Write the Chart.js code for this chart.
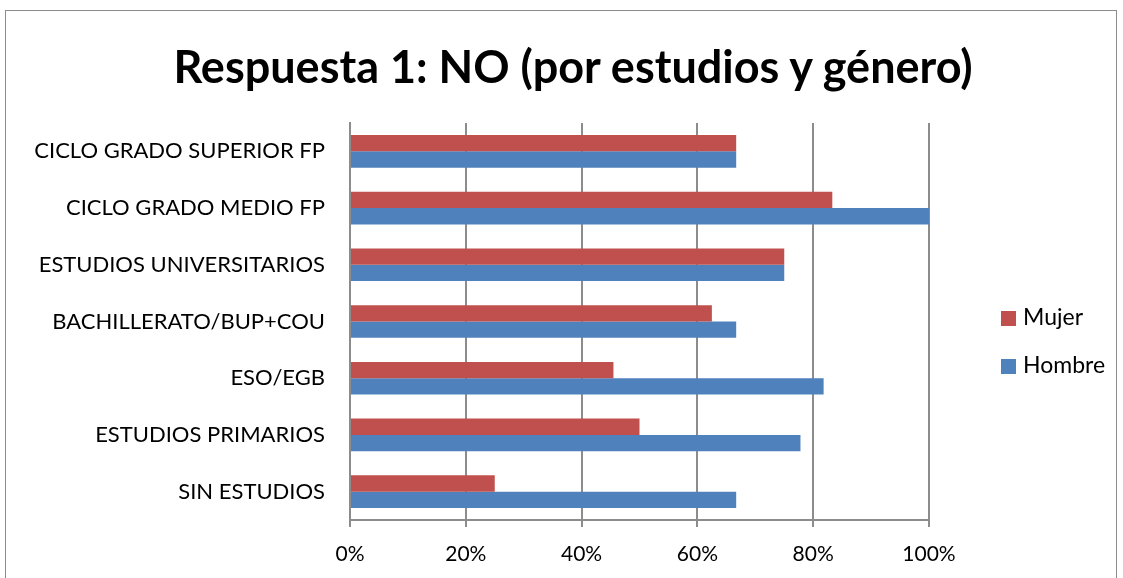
<!DOCTYPE html>
<html>
<head>
<meta charset="utf-8">
<script src="https://cdn.jsdelivr.net/npm/chart.js@4"></script>
<style>
  html, body { margin: 0; padding: 0; background: #fff; }
  #wrap { position: relative; width: 1123px; height: 578px; overflow: hidden; }
  #frame { position: absolute; left: 5px; top: 10px; width: 1112px; height: 600px; border: 1px solid #8c8c8c; box-sizing: border-box; }
  #title { position: absolute; left: 0; width: 1146px; top: 38px; text-align: center; font-family: Lato, sans-serif; font-weight: bold; font-size: 45px; line-height: 56px; color: #000; }
  #legend { position: absolute; left: 1001px; top: 302px; font-family: Lato, sans-serif; font-size: 23px; color: #000; }
  #legend div { height: 48px; line-height: 28px; }
  #legend span { display: inline-block; width: 15px; height: 15px; margin-right: 7px; vertical-align: -1px; }
  canvas { position: absolute; left: 0; top: 0; }
</style>
</head>
<body>
<div id="wrap">
  <div id="frame"></div>
  <canvas id="chart" width="1123" height="578"></canvas>
  <div id="title">Respuesta 1: NO (por estudios y género)</div>
  <div id="legend"></div>
</div>
<script>
// data
const categories = [
  'CICLO GRADO SUPERIOR FP',
  'CICLO GRADO MEDIO FP',
  'ESTUDIOS UNIVERSITARIOS',
  'BACHILLERATO/BUP+COU',
  'ESO/EGB',
  'ESTUDIOS PRIMARIOS',
  'SIN ESTUDIOS'
];
const mujer = [66.7, 83.3, 75, 62.5, 45.5, 50, 25];
const hombre = [66.7, 100, 75, 66.7, 81.8, 77.8, 66.7];
const xTicks = [0, 20, 40, 60, 80, 100];

const red = '#C0504D';
const blue = '#4F81BD';
const gridColor = '#8c8c8c';

// legend
const legend = document.getElementById('legend');
[['Mujer', red], ['Hombre', blue]].forEach(([name, color]) => {
  const row = document.createElement('div');
  row.innerHTML = '<span style="background:' + color + '"></span>' + name;
  legend.appendChild(row);
});

const ctx = document.getElementById('chart');
window.myChart = new Chart(ctx, {
  type: 'bar',
  data: {
    labels: categories,
    datasets: [{
      label: 'Mujer',
      data: mujer,
      backgroundColor: red,
      categoryPercentage: 0.575,
      barPercentage: 1
    }, {
      label: 'Hombre',
      data: hombre,
      backgroundColor: blue,
      categoryPercentage: 0.575,
      barPercentage: 1
    }]
  },
  options: {
    indexAxis: 'y',
    responsive: false,
    animation: false,
    layout: { padding: { left: 0, right: 194, top: 123, bottom: 0 } },
    plugins: {
      legend: { display: false },
      tooltip: { enabled: false }
    },
    scales: {
      x: {
        min: 0,
        max: 100,
        afterBuildTicks: (scale) => { scale.ticks = xTicks.map(v => ({ value: v })); },
        afterFit: (scale) => { scale.height = 58; },
        ticks: {
          color: '#000',
          padding: 15,
          font: { family: 'Lato, sans-serif', size: 21 },
          callback: (v) => v + '%'
        },
        grid: { color: gridColor, lineWidth: 2, tickLength: 7 },
        border: { color: gridColor, width: 2 }
      },
      y: {
        afterFit: (scale) => { scale.width = 350; },
        ticks: {
          color: '#000',
          padding: 17,
          font: { family: 'Lato, sans-serif', size: 22 }
        },
        grid: { display: false },
        border: { color: gridColor, width: 2 }
      }
    }
  }
});
</script>
</body>
</html>
